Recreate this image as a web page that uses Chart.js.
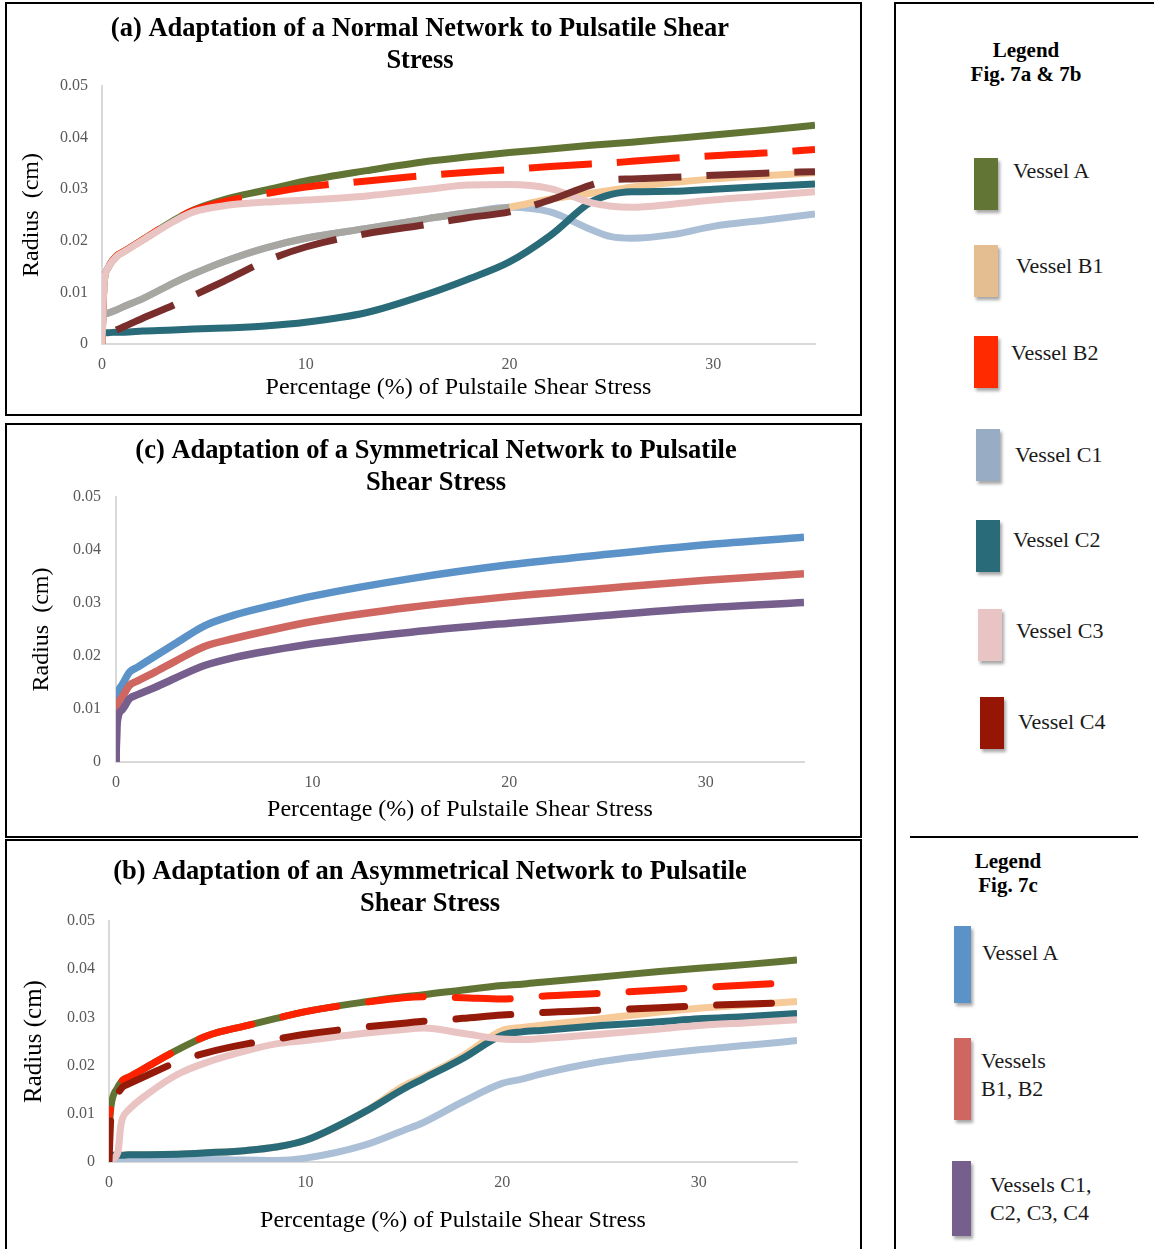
<!DOCTYPE html>
<html>
<head>
<meta charset="utf-8">
<script src="https://cdn.jsdelivr.net/npm/chart.js@4"></script>
<style>
  body { margin: 0; width: 1154px; height: 1249px; overflow: hidden; background: #fff; position: relative; font-family: "Liberation Serif", serif; color: #1a1a1a; }
  .panel { position: absolute; border: 2px solid #000; box-sizing: border-box; }
  canvas { position: absolute; }
  .sw { position: absolute; box-shadow: 2px 3px 3px rgba(0,0,0,0.35); }
  .lt { position: absolute; font-size: 22px; line-height: 24px; white-space: nowrap; }
  .lh { position: absolute; font-size: 21px; font-weight: bold; text-align: center; line-height: 24px; color: #000; }
</style>
</head>
<body>
<div class="panel" style="left:5px;top:2px;width:857px;height:414px;"></div>
<div class="panel" style="left:5px;top:423px;width:857px;height:415px;"></div>
<div class="panel" style="left:5px;top:839px;width:857px;height:430px;"></div>
<div class="panel" style="left:894px;top:2px;width:280px;height:1270px;"></div>

<canvas id="chartA" width="824" height="408" style="left:8px;top:5px;width:824px;height:408px;"></canvas>
<canvas id="chartC" width="846" height="409" style="left:12px;top:426px;width:846px;height:409px;"></canvas>
<canvas id="chartB" width="844" height="407" style="left:8px;top:842px;width:844px;height:407px;"></canvas>

<!-- Legend for 7a & 7b -->
<div class="lh" style="left:956px;top:38px;width:140px;">Legend<br>Fig. 7a &amp; 7b</div>
<div class="sw" style="left:974px;top:158px;width:24px;height:52px;background:#627534;"></div>
<div class="lt" style="left:1013px;top:159px;">Vessel A</div>
<div class="sw" style="left:974px;top:245px;width:24px;height:52px;background:#e4bd91;"></div>
<div class="lt" style="left:1016px;top:254px;">Vessel B1</div>
<div class="sw" style="left:974px;top:336px;width:24px;height:52px;background:#ff2a00;"></div>
<div class="lt" style="left:1011px;top:341px;">Vessel B2</div>
<div class="sw" style="left:976px;top:429px;width:24px;height:52px;background:#98adc3;"></div>
<div class="lt" style="left:1015px;top:443px;">Vessel C1</div>
<div class="sw" style="left:976px;top:520px;width:24px;height:52px;background:#296b78;"></div>
<div class="lt" style="left:1013px;top:528px;">Vessel C2</div>
<div class="sw" style="left:978px;top:609px;width:24px;height:52px;background:#e9c4c4;"></div>
<div class="lt" style="left:1016px;top:619px;">Vessel C3</div>
<div class="sw" style="left:980px;top:697px;width:24px;height:52px;background:#951605;"></div>
<div class="lt" style="left:1018px;top:710px;">Vessel C4</div>

<div style="position:absolute;left:910px;top:836px;width:228px;height:2px;background:#000;"></div>

<!-- Legend for 7c -->
<div class="lh" style="left:948px;top:849px;width:120px;">Legend<br>Fig. 7c</div>
<div class="sw" style="left:954px;top:926px;width:17px;height:77px;background:#5b93c9;"></div>
<div class="lt" style="left:982px;top:941px;">Vessel A</div>
<div class="sw" style="left:954px;top:1038px;width:17px;height:82px;background:#cf6660;"></div>
<div class="lt" style="left:981px;top:1047px;line-height:28px;">Vessels<br>B1, B2</div>
<div class="sw" style="left:952px;top:1161px;width:19px;height:75px;background:#765f8d;"></div>
<div class="lt" style="left:990px;top:1171px;line-height:28px;">Vessels C1,<br>C2, C3, C4</div>

<script>
// Shared axis ticks
const xTickValues = [0, 10, 20, 30];
const yTickValues = [0, 0.01, 0.02, 0.03, 0.04, 0.05];
const xLabel = 'Percentage (%) of Pulstaile Shear Stress';

// (a) Normal network
const aX = [0, 0.1, 0.3, 0.7, 1.1, 2, 3.5, 4.5, 6, 8, 10, 13, 16, 18, 20, 22, 24, 25, 26, 28, 30, 32.5, 35];
const aVesselA  = [0, 0.0115, 0.0148, 0.017, 0.018, 0.0202, 0.0239, 0.026, 0.028, 0.0298, 0.0316, 0.0336, 0.0354, 0.0363, 0.0371, 0.0378, 0.0385, 0.0388, 0.0391, 0.0398, 0.0405, 0.0414, 0.0424];
const aVesselB1 = [0.0057, 0.0058, 0.006, 0.0066, 0.0073, 0.0088, 0.0118, 0.0136, 0.016, 0.0186, 0.0205, 0.0224, 0.0243, 0.0255, 0.0265, 0.0281, 0.0292, 0.0298, 0.0304, 0.0313, 0.032, 0.0326, 0.0332];
const aVesselB2 = [0, 0.0115, 0.0148, 0.017, 0.018, 0.0202, 0.0239, 0.0259, 0.0276, 0.0291, 0.0304, 0.0316, 0.0327, 0.0333, 0.0338, 0.0344, 0.0349, 0.0351, 0.0354, 0.036, 0.0365, 0.037, 0.0377];
const aVesselC1 = [0.0057, 0.0058, 0.006, 0.0066, 0.0073, 0.0088, 0.0118, 0.0136, 0.016, 0.0186, 0.0205, 0.0224, 0.0243, 0.0255, 0.0265, 0.0256, 0.0222, 0.0208, 0.0205, 0.0212, 0.0228, 0.024, 0.0252];
const aVesselC2 = [0.0022, 0.0022, 0.0022, 0.0023, 0.0023, 0.0025, 0.0027, 0.0029, 0.0031, 0.0035, 0.0042, 0.0061, 0.0097, 0.0126, 0.0159, 0.021, 0.0275, 0.029, 0.0295, 0.0296, 0.03, 0.0305, 0.031];
const aVesselC3 = [0, 0.0115, 0.0148, 0.0169, 0.0179, 0.0201, 0.0237, 0.0256, 0.0268, 0.0275, 0.0279, 0.0287, 0.03, 0.0308, 0.0309, 0.0301, 0.0274, 0.0267, 0.0265, 0.0271, 0.0279, 0.0287, 0.0295];
const aVesselC4 = [null, null, null, 0.0027, 0.0034, 0.005, 0.0075, 0.0094, 0.0122, 0.016, 0.0188, 0.0214, 0.0232, 0.0245, 0.0256, 0.0279, 0.0308, 0.0318, 0.032, 0.0323, 0.0327, 0.0331, 0.0334];

// (b) Asymmetrical network
const bX = [0, 0.1, 0.45, 0.6, 0.7, 1, 2, 3.5, 5, 7, 8.5, 10, 13, 15, 16, 18, 20, 21, 22, 25, 28, 30, 32.5, 35];
const bVesselA  = [0.0066, 0.0115, 0.0155, 0.0165, 0.017, 0.0176, 0.0199, 0.0233, 0.0262, 0.0283, 0.0298, 0.0312, 0.0332, 0.0343, 0.0347, 0.0357, 0.0366, 0.0369, 0.0373, 0.0384, 0.0395, 0.0402, 0.041, 0.0419];
const bVesselB1 = [0.0014, 0.0014, 0.0014, 0.0014, 0.0014, 0.0015, 0.0015, 0.0016, 0.0019, 0.0024, 0.0031, 0.0045, 0.0104, 0.0158, 0.0177, 0.022, 0.0273, 0.0279, 0.0284, 0.0297, 0.0311, 0.0319, 0.0326, 0.0333];
const bVesselB2 = [0.009, 0.0115, 0.0155, 0.0165, 0.017, 0.0176, 0.0199, 0.0233, 0.0262, 0.0283, 0.0298, 0.0312, 0.0331, 0.0341, 0.0343, 0.0341, 0.0338, 0.0341, 0.0344, 0.035, 0.0357, 0.0362, 0.0367, 0.0373];
const bVesselC1 = [0, 0.0003, 0.0005, 0.0005, 0.0005, 0.0005, 0.0005, 0.0005, 0.0005, 0.0004, 0.0003, 0.0008, 0.0035, 0.0066, 0.0082, 0.0125, 0.0163, 0.0172, 0.0183, 0.0208, 0.0224, 0.0233, 0.0242, 0.0252];
const bVesselC2 = [0.0014, 0.0014, 0.0014, 0.0014, 0.0014, 0.0015, 0.0015, 0.0016, 0.0019, 0.0024, 0.0031, 0.0045, 0.0104, 0.0152, 0.0173, 0.0215, 0.0263, 0.027, 0.0273, 0.0283, 0.0291, 0.0297, 0.0302, 0.0308];
const bVesselC3 = [0, 0.0005, 0.002, 0.0075, 0.0092, 0.0108, 0.0142, 0.0182, 0.0207, 0.0231, 0.0245, 0.0252, 0.0267, 0.0275, 0.0278, 0.0267, 0.0255, 0.0254, 0.0256, 0.0265, 0.0276, 0.0283, 0.0289, 0.0295];
const bVesselC4 = [0, 0.0095, 0.0142, 0.0151, 0.0156, 0.0162, 0.0181, 0.0208, 0.0227, 0.0245, 0.0255, 0.0265, 0.028, 0.0288, 0.0292, 0.0298, 0.0305, 0.0307, 0.031, 0.0315, 0.032, 0.0324, 0.0328, 0.0331];

// (c) Symmetrical network
const cX = [0, 0.05, 0.3, 0.7, 1.1, 2, 3, 4.5, 6, 8, 10, 15, 20, 25, 30, 35];
const cVesselA  = [0, 0.01, 0.0145, 0.017, 0.0179, 0.02, 0.0223, 0.0257, 0.0277, 0.0296, 0.0313, 0.0346, 0.0372, 0.0392, 0.041, 0.0424];
const cVesselsB = [0, 0.0085, 0.0122, 0.0145, 0.0153, 0.017, 0.019, 0.0218, 0.0233, 0.025, 0.0265, 0.0292, 0.0312, 0.0328, 0.0343, 0.0355];
const cVesselsC = [0, 0.007, 0.0098, 0.012, 0.0127, 0.0141, 0.0158, 0.0182, 0.0197, 0.0211, 0.0223, 0.0245, 0.0262, 0.0277, 0.0291, 0.0301];

function pts(xs, ys) {
    return xs.map((x, i) => ({ x: x, y: ys[i] }));
}

function lineSet(label, xs, ys, color, order, width, dash, cap, dashOffset) {
    return {
        label: label,
        data: pts(xs, ys),
        borderColor: color,
        borderWidth: width,
        borderDash: dash || [],
        borderDashOffset: dashOffset || 0,
        borderCapStyle: cap || 'butt',
        borderJoinStyle: 'round',
        pointRadius: 0,
        cubicInterpolationMode: 'monotone',
        fill: false,
        order: order
    };
}

const tickFont = { family: 'Liberation Serif', size: 16 };

function makeChart(id, cfg) {
    return new Chart(document.getElementById(id), {
        type: 'line',
        data: { datasets: cfg.datasets },
        options: {
            responsive: false,
            animation: false,
            events: [],
            layout: { padding: { left: cfg.padLeft, right: cfg.padRight } },
            plugins: {
                legend: { display: false },
                tooltip: { enabled: false },
                title: {
                    display: true,
                    text: cfg.title,
                    color: '#000',
                    font: { family: 'Liberation Serif', size: 26.5, weight: 'bold', lineHeight: 32 / 26.5 },
                    padding: cfg.titlePad
                }
            },
            scales: {
                x: {
                    type: 'linear',
                    min: 0,
                    max: 35,
                    afterBuildTicks: (axis) => { axis.ticks = xTickValues.map(v => ({ value: v })); },
                    afterFit: (axis) => { axis.height = cfg.xHeight; },
                    ticks: { color: '#595959', font: tickFont, padding: 11, maxRotation: 0, autoSkip: false, callback: v => String(v) },
                    grid: { drawOnChartArea: false, drawTicks: false, color: '#d9d9d9' },
                    border: { color: '#d9d9d9', width: 2 },
                    title: { display: true, text: xLabel, color: '#000', font: { family: 'Liberation Serif', size: 24, lineHeight: 1.2 }, padding: { top: 0, bottom: cfg.xTitlePad } }
                },
                y: {
                    min: 0,
                    max: 0.05,
                    afterBuildTicks: (axis) => { axis.ticks = yTickValues.map(v => ({ value: v })); },
                    afterFit: (axis) => { axis.width = cfg.yWidth; },
                    ticks: { color: '#595959', font: tickFont, padding: cfg.yTickPad, callback: v => String(v) },
                    grid: { drawOnChartArea: false, drawTicks: false, color: '#d9d9d9' },
                    border: { color: '#d9d9d9', width: 2 },
                    // title offset is measured from the axis box, which starts after the left padding
                    title: { display: true, text: cfg.yLabel, color: '#000', font: { family: 'Liberation Serif', size: cfg.yTitleSize, lineHeight: 1 }, padding: { top: cfg.yTitlePad, bottom: 0 } }
                }
            }
        }
    });
}

// lowest order is drawn on top (Excel draws the last series on top)
makeChart('chartA', {
    title: ['(a) Adaptation of a Normal Network to Pulsatile Shear', 'Stress'],
    titlePad: { top: 8, bottom: 9 },
    yLabel: 'Radius  (cm)', yTitleSize: 24,
    padLeft: 17, padRight: 17, xHeight: 69, xTitlePad: 10.6, yWidth: 77, yTitlePad: -5, yTickPad: 14,
    datasets: [
        lineSet('Vessel A', aX, aVesselA, '#617433', 7, 7),
        // B1 and C1 share a path up to 20 %, drawn grey there as in the original
        Object.assign(lineSet('Vessel B1', aX, aVesselB1, '#f5c996', 4, 7), {
            segment: { borderColor: ctx => ctx.p1.parsed.x <= 20 ? '#a7a6a0' : '#f5c996' }
        }),
        lineSet('Vessel B2', aX, aVesselB2, '#ff2200', 6, 7, [63, 25], 'butt', 8),
        lineSet('Vessel C1', aX, aVesselC1, '#aabfd6', 4.5, 7),
        lineSet('Vessel C2', aX, aVesselC2, '#296b78', 3, 7),
        lineSet('Vessel C3', aX, aVesselC3, '#eac4c3', 2, 7),
        lineSet('Vessel C4', aX, aVesselC4, '#7a2e2c', 1, 7, [63, 25])
    ]
});

makeChart('chartC', {
    title: ['(c) Adaptation of a Symmetrical Network to Pulsatile', 'Shear Stress'],
    titlePad: { top: 9, bottom: -2 },
    yLabel: 'Radius  (cm)', yTitleSize: 24,
    padLeft: 56, padRight: 54, xHeight: 73, xTitlePad: 10.6, yWidth: 48, yTitlePad: -38, yTickPad: 15,
    datasets: [
        lineSet('Vessel A', cX, cVesselA, '#5b93c9', 3, 7.5),
        lineSet('Vessels B1, B2', cX, cVesselsB, '#cf6660', 2, 7.5),
        lineSet('Vessels C1, C2, C3, C4', cX, cVesselsC, '#765f8d', 1, 7.5)
    ]
});

makeChart('chartB', {
    title: ['(b) Adaptation of an Asymmetrical Network to Pulsatile', 'Shear Stress'],
    titlePad: { top: 14, bottom: 1 },
    yLabel: 'Radius (cm)', yTitleSize: 25,
    padLeft: 55, padRight: 55, xHeight: 87, xTitlePad: 13.6, yWidth: 46, yTitlePad: -41.5, yTickPad: 14,
    datasets: [
        lineSet('Vessel A', bX, bVesselA, '#617433', 7, 7),
        lineSet('Vessel B1', bX, bVesselB1, '#f6ca99', 6, 7),
        lineSet('Vessel B2', bX, bVesselB2, '#ff2200', 5, 7, [55, 32], 'round', 46),
        lineSet('Vessel C1', bX, bVesselC1, '#abc0d7', 4, 7),
        lineSet('Vessel C2', bX, bVesselC2, '#296b78', 3, 7),
        lineSet('Vessel C3', bX, bVesselC3, '#eac4c3', 2, 7),
        lineSet('Vessel C4', bX, bVesselC4, '#951a0a', 1, 7, [55, 32], 'round', 14)
    ]
});
</script>
</body>
</html>
